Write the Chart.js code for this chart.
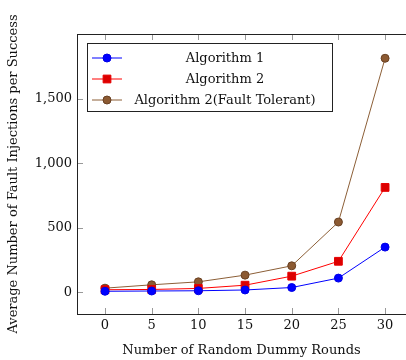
<!DOCTYPE html>
<html>
<head>
<meta charset="utf-8">
<script src="https://cdn.jsdelivr.net/npm/chart.js@4"></script>
<style>
  html, body { margin: 0; padding: 0; background: #fff; overflow: hidden; }
</style>
</head>
<body>
<canvas id="chart" width="406" height="360"></canvas>
<script>
const rounds = [0, 5, 10, 15, 20, 25, 30];
const algo1 = [8, 10, 12, 18, 37, 110, 350];
const algo2 = [20, 22, 30, 55, 125, 240, 812];
const algo2FT = [32, 58, 81, 133, 205, 544, 1812];
const xTicks = [0, 5, 10, 15, 20, 25, 30];
const yTicks = [0, 500, 1000, 1500];

const fontFamily = '"DejaVu Serif", serif';

const toPoints = (values) => values.map((v, i) => ({ x: rounds[i], y: v }));

// legend box drawn like pgfplots (box, line sample with marker, centered label)
const boxLegend = {
    id: 'boxLegend',
    afterDraw(chart) {
        const ctx = chart.ctx;
        const area = chart.chartArea;
        const left = area.left + 10;
        const top = area.top + 9;
        const w = 245;
        const rowH = 21;
        const h = 68;

        ctx.save();
        ctx.fillStyle = '#fff';
        ctx.fillRect(left, top, w, h);
        ctx.strokeStyle = '#222';
        ctx.lineWidth = 1;
        ctx.strokeRect(left + 0.5, top + 0.5, w, h);

        chart.data.datasets.forEach((ds, i) => {
            const y = top + 15 + i * rowH;
            ctx.strokeStyle = ds.borderColor;
            ctx.lineWidth = 1;
            ctx.beginPath();
            ctx.moveTo(left + 5, y);
            ctx.lineTo(left + 35, y);
            ctx.stroke();
            ctx.fillStyle = ds.pointBackgroundColor;
            ctx.strokeStyle = ds.pointBorderColor;
            Chart.helpers.drawPoint(ctx, {
                pointStyle: ds.pointStyle,
                radius: ds.pointRadius,
                rotation: 0,
                borderWidth: 1
            }, left + 20, y);
            ctx.fillStyle = '#111';
            ctx.font = '13px ' + fontFamily;
            ctx.textAlign = 'center';
            ctx.textBaseline = 'middle';
            ctx.fillText(ds.label, left + 138, y + 1);
        });
        ctx.restore();
    }
};

// frame and inward ticks on all four sides (right side sits just past the canvas edge)
const frameTicks = {
    id: 'frameTicks',
    beforeDatasetsDraw(chart) {
        const ctx = chart.ctx;
        const a = chart.chartArea;
        const xs = chart.scales.x;
        const ys = chart.scales.y;
        const right = xs.getPixelForValue(33);
        ctx.save();
        ctx.strokeStyle = '#999';
        ctx.lineWidth = 1;
        ctx.beginPath();
        xs.ticks.forEach((t) => {
            const px = Math.round(xs.getPixelForValue(t.value)) + 0.5;
            ctx.moveTo(px, a.bottom);
            ctx.lineTo(px, a.bottom - 6);
            ctx.moveTo(px, a.top);
            ctx.lineTo(px, a.top + 6);
        });
        ys.ticks.forEach((t) => {
            const py = Math.round(ys.getPixelForValue(t.value)) + 0.5;
            ctx.moveTo(a.left, py);
            ctx.lineTo(a.left + 6, py);
            ctx.moveTo(right, py);
            ctx.lineTo(right - 7, py);
        });
        ctx.stroke();
        ctx.strokeStyle = '#222';
        ctx.strokeRect(a.left + 0.5, a.top + 0.5, right - a.left, a.bottom - a.top);
        ctx.restore();
    }
};

const data = {
    datasets: [
        {
            label: 'Algorithm 1',
            data: toPoints(algo1),
            borderColor: 'rgb(0, 0, 255)',
            backgroundColor: 'rgb(0, 0, 255)',
            pointBackgroundColor: 'rgb(0, 0, 255)',
            pointBorderColor: 'rgb(0, 0, 230)',
            pointStyle: 'circle',
            pointRadius: 4,
            borderWidth: 1,
            tension: 0
        },
        {
            label: 'Algorithm 2',
            data: toPoints(algo2),
            borderColor: 'rgb(255, 0, 0)',
            backgroundColor: 'rgb(220, 0, 0)',
            pointBackgroundColor: 'rgb(220, 0, 0)',
            pointBorderColor: 'rgb(230, 0, 0)',
            pointStyle: 'rect',
            pointRadius: 5.5,
            borderWidth: 1,
            tension: 0
        },
        {
            label: 'Algorithm 2(Fault Tolerant)',
            data: toPoints(algo2FT),
            borderColor: 'rgb(140, 95, 55)',
            backgroundColor: 'rgb(140, 90, 50)',
            pointBackgroundColor: 'rgb(140, 90, 50)',
            pointBorderColor: 'rgb(105, 65, 35)',
            pointStyle: 'circle',
            pointRadius: 4,
            borderWidth: 1,
            tension: 0
        }
    ]
};

const config = {
    type: 'line',
    data: data,
    options: {
        responsive: false,
        animation: false,
        layout: { autoPadding: false, padding: { left: 0, top: 34, right: 0, bottom: 0 } },
        plugins: {
            legend: { display: false },
            tooltip: { enabled: false }
        },
        scales: {
            x: {
                type: 'linear',
                min: -3,
                max: 32.24,
                grid: { display: false, drawTicks: false },
                border: { display: false },
                afterBuildTicks: (scale) => { scale.ticks = xTicks.map((v) => ({ value: v })); },
                afterFit: (scale) => {
                    scale.height = 46;
                    scale.paddingLeft = 0;
                    scale.paddingRight = 0;
                },
                ticks: {
                    color: '#111',
                    padding: 4,
                    maxRotation: 0,
                    font: { family: fontFamily, size: 13 }
                },
                title: {
                    display: true,
                    text: 'Number of Random Dummy Rounds',
                    color: '#111',
                    padding: { top: 0, bottom: 2 },
                    font: { family: fontFamily, size: 13 }
                }
            },
            y: {
                min: -168,
                max: 2000,
                grid: { display: false, drawTicks: false },
                border: { display: false },
                afterBuildTicks: (scale) => { scale.ticks = yTicks.map((v) => ({ value: v })); },
                afterFit: (scale) => {
                    scale.width = 77;
                    scale.paddingTop = 0;
                    scale.paddingBottom = 0;
                },
                ticks: {
                    color: '#111',
                    padding: 5,
                    font: { family: fontFamily, size: 13 }
                },
                title: {
                    display: true,
                    text: 'Average Number of Fault Injections per Success',
                    color: '#111',
                    padding: { top: 6, bottom: 0 },
                    font: { family: fontFamily, size: 13 }
                }
            }
        }
    },
    plugins: [frameTicks, boxLegend]
};

new Chart(document.getElementById('chart'), config);
</script>
</body>
</html>
